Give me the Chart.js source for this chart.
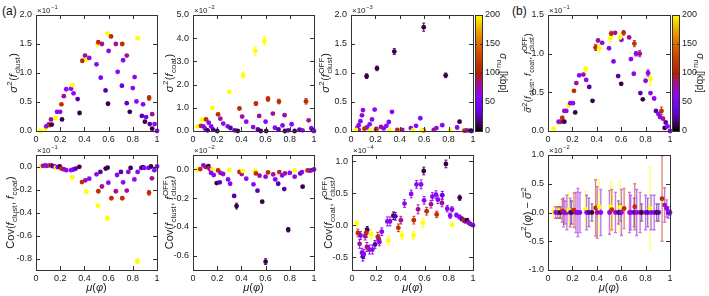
<!DOCTYPE html>
<html>
<head>
<meta charset="utf-8">
<script src="https://cdn.jsdelivr.net/npm/chart.js@4.4.1/dist/chart.umd.min.js"></script>
<style>
  body { margin: 0; background: #fff; }
  #fig { position: relative; width: 709px; height: 296px; font-family: "Liberation Sans", Arial, sans-serif; }
  #fig canvas { position: absolute; left: 0; top: 0; }
  .tag { position: absolute; font-size: 12px; color: #111; }
</style>
</head>
<body>
<div id="fig">
  <div class="tag" style="left:2px;top:4px">(a)</div>
  <div class="tag" style="left:512px;top:4px">(b)</div>
</div>
<script>
// tick values
const xTicks = [0, 0.2, 0.4, 0.6, 0.8, 1];
const yTicks1 = [0, 0.5, 1, 1.5, 2];
const yTicks2 = [0, 1, 2, 3, 4, 5];
const yTicks3 = [0, 0.5, 1, 1.5, 2];
const yTicks4 = [0, 0.5, 1, 1.5];
const yTicks5 = [-0.8, -0.6, -0.4, -0.2, 0];
const yTicks6 = [-0.6, -0.4, -0.2, 0];
const yTicks7 = [-0.5, 0, 0.5, 1];
const yTicks8 = [-1, -0.5, 0, 0.5, 1];
const barTicks = [0, 50, 100, 150, 200];

// (a) sigma^2(f_clust)  x10^-1
const p1mu = [.036,.077,.085,.105,.113,.13,.124,.163,.174,.2, .215,.21,.23,.25,.29,.3,.31,.344,.36,.383, .405,.42,.44,.5,.535,.51,.515,.545,.575,.595, .6,.59,.62,.66,.675,.71,.713,.72,.75,.75, .775,.8,.815,.83,.84,.875,.885,.9,.91,.935, .94,.96,.96,.98,1.0];
const p1v = [0,.04,.08,.115,.1,.11,.2,.225,.33,.33, .2,.46,.6,.72,.73,.79,.65,.55,.31,1.21, 1.3,1.23,1.26,1.15,.92,1.49,1.53,1.5,.7,.47, 1.38,1.68,1.63,1.5,1.02,.78,1.5,1.22,1.3,.48, .33,.74,.93,.51,1.6,.26,.46,.16,.24,.57, .12,.29,.04,.12,0];
const p1s = [200,200,60,60,112,10,80,200,60,60, 10,112,80,60,60,200,60,24,10,112, 80,200,60,60,48,200,112,80,24,10, 60,200,112,80,60,35,112,60,80,30, 10,60,60,60,200,24,60,10,40,112, 24,80,10,60,60];
const p1e = [0,0,0,0,0,0,0,0,0,0, 0,0,0,0,0,0,0,0,0,.03, 0,0,0,0,0,0,0,0,0,0, 0,0,.02,0,0,0,.02,0,0,0, 0,0,0,0,0,0,0,0,0,.04, 0,0,0,0,0];

// sigma^2(f_coat)  x10^-2
const p2mu = [.036,.075,.066,.108,.086,.1,.12,.16,.13,.15, .166,.2,.207,.226,.25,.287,.31,.3,.345,.37, .384,.406,.414,.44,.497,.536,.56,.514,.52,.547, .6,.59,.62,.605,.66,.677,.707,.71,.757,.74, .815,.76,.787,.84,.88,.905,.934,.956,.978,.99, 1.0];
const p2v = [.2,.49,.22,.5,.2,.1,.03,1.0,.36,.2, .06,0,.72,.53,.32,.2,.13,1.69,.03,0, .97,.62,2.4,.4,.17,.07,0,3.45,1.18,.65, .4,3.88,1.38,0,.75,.14,.07,1.27,.68,.24, .29,0,.03,0,.06,.03,1.28,.46,.12,.03, 0];
const p2s = [200,200,112,112,60,60,10,200,60,60, 24,10,112,80,60,60,24,200,24,10, 112,80,200,60,60,24,10,200,112,80, 60,200,112,10,80,60,24,112,80,60, 60,10,24,10,24,60,112,80,60,10, 60];
const p2e = [0,0,0,0,0,0,0,0,0,0, 0,0,0,0,0,0,0,.05,0,0, .04,0,.12,0,0,0,0,.18,.08,0, 0,.2,.1,0,0,0,0,.1,0,0, 0,0,0,0,0,0,.12,0,0,0, 0];

// sigma^2(f_clust^OFF)  x10^-3
const p3mu = [.128,.213,.355,.596,.776,.89,.098,.09,.077,.063, .05,.194,.172,.153,.13,.336,.31,.29,.268,.568, .533,.49,.748,.7,.87,.246,.208,.063,.11,.205, .38,.595,.93,.04,.158,.317,.508,.58,.814,.42, .678,.95,.99,.98];
const p3v = [.945,1.08,1.37,1.79,.96,.16,.36,.27,.17,.1, .05,.37,.2,.115,.06,.33,.155,.09,.045,.22, .09,.05,.1,.05,.06,.07,.035,.02,.04,.02, .02,.01,.005,.02,.01,.01,.01,.01,.01,.02, .02,.01,0,.005];
const p3s = [10,10,10,10,10,10,60,60,60,60, 60,60,60,60,60,60,60,60,60,60, 60,60,60,60,60,80,80,80,112,112, 112,112,112,200,200,200,200,200,200,80, 80,80,60,10];
const p3e = [.04,.04,.05,.07,.04,0,0,0,0,0, 0,0,0,0,0,0,0,0,0,0, 0,0,0,0,0,0,0,0,0,0, 0,0,0,0,0,0,0,0,0,0, 0,0,0,0];

// (b) mean variance  x10^-1
const p4mu = [.046,.09,.087,.106,.117,.134,.134,.15,.169,.183, .204,.213,.223,.232,.256,.29,.308,.313,.338,.365, .39,.42,.41,.444,.5,.537,.512,.518,.55,.575, .6,.602,.59,.62,.665,.68,.703,.708,.722,.752, .757,.777,.8,.82,.84,.84,.87,.885,.905,.918, .93,.943,.956,.965,.98,1.0];
const p4v = [.03,.1,.12,.12,.17,.12,.26,.26,.33,.36, .36,.52,.24,.62,.72,.73,.8,.66,.57,.39, 1.08,1.07,1.17,1.14,1.07,.9,1.2,1.26,1.27,.71, .61,1.18,1.21,1.27,1.21,.93,.74,1.13,1.0,1.0, .49,.41,.65,.75,.67,.49,.42,.26,.22,.18, .26,.16,.04,.11,.06,0];
const p4s = [200,200,60,80,112,10,80,60,200,60, 60,112,10,80,60,80,200,60,24,10, 112,200,80,60,60,48,200,112,80,24, 10,60,200,112,80,60,60,112,60,80, 24,10,60,60,200,60,60,24,60,60, 112,80,10,24,60,60];
const p4e = [0,0,0,0,.02,0,0,0,0,0, 0,0,0,0,0,0,.03,0,0,0, .04,.05,0,0,0,0,.05,.03,0,0, 0,0,.05,.03,0,0,0,.04,.03,.04, 0,0,0,.04,.08,0,0,0,0,0, .05,0,0,0,0,0];

// Cov(f_clust, f_coat)  x10^-1
const p5mu = [.04,.058,.077,.09,.113,.127,.14,.154,.165,.18, .196,.21,.229,.25,.29,.309,.328,.358,.3,.38, .408,.44,.416,.5,.532,.576,.592,.515,.545,.598, .512,.59,.623,.66,.67,.702,.713,.72,.75,.763, .782,.813,.84,.87,.884,.895,.93,.934,.958,.95, .978,1.0,.837];
const p5v = [0,.006,.01,.006,.01,.01,.003,0,-.01,-.006, 0,-.018,-.024,-.032,-.032,-.026,-.018,-.003,-.094,-.135, -.12,-.106,-.218,-.068,-.047,-.018,-.01,-.215,-.174,-.141, -.341,-.45,-.276,-.215,-.074,-.047,-.276,-.138,-.209,-.047, -.012,-.112,-.047,-.012,-.006,-.012,-.012,-.229,-.103,0, -.032,0,-.823];
const p5s = [200,60,80,60,112,80,10,60,200,60, 10,112,80,60,60,60,24,10,200,112, 80,60,200,60,24,10,10,112,80,60, 200,200,112,80,60,24,112,60,80,60, 10,60,60,24,10,60,60,112,80,10, 60,60,200];
const p5e = [0,0,0,0,0,0,0,0,0,0, 0,0,0,0,0,0,0,0,0,0, 0,0,0,0,0,0,0,0,0,0, 0,0,0,0,0,0,0,0,0,0, 0,0,0,0,0,0,0,.02,0,0, 0,0,.02];

// Cov(f_clust, f_clust^OFF)  x10^-2
const p6mu = [.036,.06,.086,.105,.127,.133,.144,.16,.149,.171, .196,.221,.207,.226,.249,.29,.307,.34,.36,.3, .384,.403,.41,.44,.5,.533,.572,.6,.514,.52, .55,.6,.62,.663,.68,.704,.713,.76,.737,.754, .787,.8,.84,.84,.887,.906,.9,.947,.967,.983, 1.0];
const p6v = [0,.002,.028,.016,.023,.007,0,0,-.025,-.039, -.095,-.09,-.007,-.025,-.032,-.07,-.1,-.185,-.255,-.005, -.018,-.032,-.012,-.065,-.104,-.148,-.225,-.642,-.009,-.028, -.044,-.051,-.021,-.035,-.07,-.1,-.019,-.028,-.042,-.137, -.42,-.025,-.051,-.007,-.028,-.12,-.019,-.007,-.009,-.005, 0];
const p6s = [200,112,60,80,10,112,60,200,60,60, 10,24,112,80,60,60,60,24,10,200, 112,80,200,60,60,24,10,10,200,112, 80,60,112,80,60,24,112,80,60,24, 10,60,60,200,24,10,60,112,80,60, 60];
const p6e = [0,0,0,0,0,0,0,0,0,0, 0,0,0,0,0,0,0,0,.02,0, 0,0,0,0,0,0,0,.02,0,0, 0,0,0,0,0,0,0,0,0,0, .015,0,0,0,0,0,0,0,0,0, 0];

// Cov(f_coat, f_clust^OFF)  x10^-4
const p7mu = [.038,.049,.063,.071,.082,.09,.098,.126,.117,.109, .158,.145,.169,.123,.19,.213,.221,.227,.246,.292, .314,.3,.342,.358,.404,.383,.413,.434,.489,.533, .571,.546,.511,.508,.617,.585,.596,.593,.653,.664, .694,.71,.70,.744,.746,.776,.787,.811,.826,.828, .89,.863,.888,.907,.923,.937,.95,.964,.978,1.0];
const p7v = [.03,-.12,-.29,-.16,-.43,-.49,-.45,-.07,-.12,-.17, -.14,-.38,-.38,-.34,-.3,-.18,-.22,-.26,-.1,.06, .06,-.24,.15,.14,.08,-.04,-.16,.34,.49,.64, .64,.25,.08,-.16,.22,.04,.39,.85,.33,.45, .48,.40,.17,.35,.47,.96,.26,.15,.25,.01, .43,.16,.13,.1,.08,.06,.08,.04,.02,0];
const p7s = [200,112,80,60,60,24,60,10,112,80, 200,60,60,80,24,112,80,60,60,60, 60,200,10,24,80,112,200,60,60,60, 60,80,112,200,112,200,60,10,80,60, 60,60,112,80,35,10,60,60,60,200, 10,60,60,24,112,80,10,80,60,60];
const p7e = [.04,.06,.07,.06,.07,.07,.07,.05,.07,.06, .07,.07,.07,.07,.06,.07,.07,.06,.06,.07, .07,.06,.06,.06,.06,.06,.06,.06,.06,.06, .07,.07,.06,.06,.06,.07,.06,.06,.06,.06, .06,.06,.05,.06,.06,.06,.05,.04,.04,.02, .04,.03,.03,.03,.03,.02,.02,.02,.01,0];

// sigma^2(phi) - mean  x10^-2
const p8mu = [.046,.063,.087,.08,.1,.117,.128,.139,.155,.169, .183,.193,.213,.229,.245,.262,.308,.316,.335,.36, .39,.42,.403,.433,.504,.515,.523,.553,.578,.594, .591,.602,.624,.668,.678,.706,.711,.727,.755,.768, .8,.817,.837,.845,.87,.891,.907,.935,.956,.973, .986,1.0];
const p8v = [.01,0,.03,0,0,.03,0,0,0,.04, 0,0,.04,0,0,0,.06,0,0,0, .08,.1,0,0,0,.1,.05,0,0,0, .09,0,.07,0,0,0,.1,0,0,0, 0,0,.07,0,0,0,0,.24,.13,.07, 0,0];
const p8s = [200,60,200,80,10,112,60,80,60,200, 60,10,112,80,60,60,200,60,24,10, 112,200,80,60,60,200,112,80,24,10, 200,60,112,80,60,24,112,60,80,10, 60,24,200,60,60,10,24,112,80,60, 60,60];
const p8e = [.1,.1,.12,.1,.1,.2,.25,.2,.3,.3, .25,.2,.3,.35,.42,.35,.3,.3,.25,.15, .49,.46,.45,.4,.38,.43,.35,.35,.2,.15, .45,.4,.35,.35,.3,.25,.4,.4,.35,.15, .3,.25,.72,.3,.3,.15,.15,.74,.3,.15, .1,.05];

const W = 709, H = 296, YW = 30, XH = 18, BW = 26;
const FONT = "'Liberation Sans', Arial, sans-serif";
const INK = "#222";
const fig = document.getElementById("fig");
Chart.defaults.font.family = FONT;

// gnuplot style palette (sqrt, cube, sin)
function palette(s, a) {
  const x = Math.min(Math.max(s / 200, 0), 1);
  const r = Math.sqrt(x), g = x * x * x, b = Math.max(Math.sin(2 * Math.PI * x), 0);
  return `rgba(${Math.round(r * 255)},${Math.round(g * 255)},${Math.round(b * 255)},${a == null ? 1 : a})`;
}

function setFont(ctx, size, it) {
  ctx.font = (it ? "italic " : "") + size + "px " + FONT;
}

function segWidth(ctx, s, size) {
  let w = 0, sw = 0;
  if (s.t) { setFont(ctx, size, s.it); w = ctx.measureText(s.t).width; }
  setFont(ctx, size * 0.72, false);
  if (s.sup) sw = Math.max(sw, ctx.measureText(s.sup).width);
  if (s.sub) sw = Math.max(sw, ctx.measureText(s.sub).width);
  return w + (sw ? sw + 1 : 0);
}

// text with sub/superscripts, centred on (cx, cy) unless left is set
function drawRich(ctx, segs, cx, cy, size, rot, left) {
  ctx.save();
  ctx.translate(cx, cy);
  ctx.rotate(rot);
  ctx.fillStyle = INK;
  ctx.strokeStyle = INK;
  ctx.textAlign = "left";
  ctx.textBaseline = "alphabetic";
  let total = 0;
  segs.forEach(s => (total += segWidth(ctx, s, size)));
  let x = left ? 0 : -total / 2;
  const y = size * 0.35;
  segs.forEach(s => {
    if (s.t) {
      setFont(ctx, size, s.it);
      const w = ctx.measureText(s.t).width;
      ctx.fillText(s.t, x, y);
      if (s.bar) {
        ctx.lineWidth = 0.8;
        ctx.beginPath();
        ctx.moveTo(x + 1.5, y - size * 0.7);
        ctx.lineTo(x + w + 0.5, y - size * 0.7);
        ctx.stroke();
      }
      x += w;
    }
    setFont(ctx, size * 0.72, false);
    let sw = 0;
    if (s.sup) { ctx.fillText(s.sup, x + 0.5, y - size * 0.42); sw = ctx.measureText(s.sup).width; }
    if (s.sub) { ctx.fillText(s.sub, x + 0.5, y + size * 0.25); sw = Math.max(sw, ctx.measureText(s.sub).width); }
    if (sw) x += sw + 1;
  });
  ctx.restore();
}

function addCanvas() {
  const cv = document.createElement("canvas");
  cv.width = W;
  cv.height = H;
  fig.appendChild(cv);
  return cv;
}

function decor(p) {
  return {
    id: "decor",
    beforeDatasetsDraw(chart) {
      const ctx = chart.ctx, xs = chart.scales.x, ys = chart.scales.y;
      ctx.save();
      ctx.lineWidth = p.errW || 1;
      p.mu.forEach((m, i) => {
        const e = p.e[i];
        if (!e) return;
        const px = xs.getPixelForValue(m);
        const y1 = ys.getPixelForValue(p.v[i] + e), y2 = ys.getPixelForValue(p.v[i] - e);
        ctx.strokeStyle = palette(p.s[i], p.errA || 0.9);
        ctx.beginPath();
        ctx.moveTo(px, y1); ctx.lineTo(px, y2);
        ctx.moveTo(px - 1.5, y1); ctx.lineTo(px + 1.5, y1);
        ctx.moveTo(px - 1.5, y2); ctx.lineTo(px + 1.5, y2);
        ctx.stroke();
      });
      ctx.restore();
    },
    afterDraw(chart) {
      const ctx = chart.ctx, a = chart.chartArea, xs = chart.scales.x, ys = chart.scales.y;
      ctx.save();
      ctx.strokeStyle = "#333";
      ctx.lineWidth = 1;
      ctx.beginPath();
      xTicks.forEach(v => {
        const px = Math.round(xs.getPixelForValue(v)) + 0.5;
        ctx.moveTo(px, a.bottom); ctx.lineTo(px, a.bottom - 4);
        ctx.moveTo(px, a.top); ctx.lineTo(px, a.top + 4);
      });
      p.yt.forEach(v => {
        const py = Math.round(ys.getPixelForValue(v)) + 0.5;
        ctx.moveTo(a.left, py); ctx.lineTo(a.left + 4, py);
        ctx.moveTo(a.right, py); ctx.lineTo(a.right - 4, py);
      });
      ctx.stroke();
      ctx.strokeRect(Math.round(a.left) + 0.5, Math.round(a.top) + 0.5, Math.round(a.width), Math.round(a.height));
      ctx.restore();
      drawRich(ctx, p.ylab, p.labX, (a.top + a.bottom) / 2, p.labSize || 11, -Math.PI / 2);
      drawRich(ctx, [{ t: "×10", sup: "−" + p.exp }], a.left + 1, a.top - 5, 8, 0, true);
      if (p.xlab) drawRich(ctx, [{ t: "μ", it: 1 }, { t: "(" }, { t: "φ", it: 1 }, { t: ")" }], (a.left + a.right) / 2, 287, 11, 0);
    }
  };
}

function makePanel(p) {
  const [l, t, r, b] = p.box;
  const pts = p.mu.map((m, i) => ({ x: m, y: p.v[i] }));
  return new Chart(addCanvas(), {
    type: "scatter",
    data: {
      datasets: [{
        data: pts,
        clip: false,
        pointRadius: 2.4,
        pointHoverRadius: 2.4,
        pointBorderWidth: 0,
        pointBackgroundColor: ctx => palette(p.s[ctx.dataIndex])
      }]
    },
    options: {
      responsive: false,
      animation: false,
      events: [],
      layout: { padding: { left: l - YW, top: t, right: W - r, bottom: H - b - XH } },
      plugins: { legend: { display: false }, tooltip: { enabled: false } },
      scales: {
        x: {
          type: "linear", min: 0, max: 1,
          grid: { display: false, drawTicks: false }, border: { display: false },
          afterBuildTicks: s => { s.ticks = xTicks.map(v => ({ value: v })); },
          afterFit: s => { s.height = XH; },
          ticks: {
            padding: 3, color: INK, font: { size: 9 }, maxRotation: 0, autoSkip: false,
            callback: v => (v === 0 || v === 1) ? String(v) : v.toFixed(1)
          }
        },
        y: {
          type: "linear", min: p.ymin, max: p.ymax,
          grid: { display: false, drawTicks: false }, border: { display: false },
          afterBuildTicks: s => { s.ticks = p.yt.map(v => ({ value: v })); },
          afterFit: s => { s.width = YW; },
          ticks: { padding: 4, color: INK, font: { size: 9 }, autoSkip: false, callback: v => v.toFixed(1) }
        }
      }
    },
    plugins: [decor(p)]
  });
}

function makeBar(box, labX) {
  const [l, t, r, b] = box;
  return new Chart(addCanvas(), {
    type: "scatter",
    data: { datasets: [] },
    options: {
      responsive: false,
      animation: false,
      events: [],
      layout: { padding: { left: l, top: t, right: W - r - BW, bottom: H - b } },
      plugins: { legend: { display: false }, tooltip: { enabled: false } },
      scales: {
        x: { display: false, min: 0, max: 1 },
        y: {
          position: "right", min: 0, max: 200,
          grid: { display: false, drawTicks: false }, border: { display: false },
          afterBuildTicks: s => { s.ticks = barTicks.map(v => ({ value: v })); },
          afterFit: s => { s.width = BW; },
          ticks: { padding: 3, color: INK, font: { size: 9 }, autoSkip: false }
        }
      }
    },
    plugins: [{
      id: "bar",
      beforeDatasetsDraw(chart) {
        const ctx = chart.ctx, a = chart.chartArea;
        const grad = ctx.createLinearGradient(0, a.bottom, 0, a.top);
        for (let i = 0; i <= 20; i++) grad.addColorStop(i / 20, palette(i * 10));
        ctx.fillStyle = grad;
        ctx.fillRect(a.left, a.top, a.width, a.height);
      },
      afterDraw(chart) {
        const ctx = chart.ctx, a = chart.chartArea, ys = chart.scales.y;
        ctx.save();
        ctx.strokeStyle = "#333";
        ctx.lineWidth = 1;
        ctx.beginPath();
        barTicks.forEach(v => {
          const py = Math.round(ys.getPixelForValue(v)) + 0.5;
          ctx.moveTo(a.right, py); ctx.lineTo(a.right - 2, py);
          ctx.moveTo(a.left, py); ctx.lineTo(a.left + 2, py);
        });
        ctx.stroke();
        ctx.strokeRect(Math.round(a.left) + 0.5, Math.round(a.top) + 0.5, Math.round(a.width), Math.round(a.height));
        ctx.restore();
        drawRich(ctx, [{ t: "σ", it: 1, sub: "nu" }, { t: " [kbp]" }], labX, (a.top + a.bottom) / 2, 10, Math.PI / 2);
      }
    }]
  });
}

const fClust = [{ t: "f", it: 1, sub: "clust" }];
const fCoat = [{ t: "f", it: 1, sub: "coat" }];
const fOff = [{ t: "f", it: 1, sup: "OFF", sub: "clust" }];
const comma = [{ t: ", " }];

const panels = [
  { box: [36, 15, 157, 131], mu: p1mu, v: p1v, s: p1s, e: p1e, ymin: 0, ymax: 2, yt: yTicks1, exp: "1", labX: 13,
    ylab: [{ t: "σ", it: 1, sup: "2" }, { t: "(" }, ...fClust, { t: ")" }] },
  { box: [193, 15, 314, 131], mu: p2mu, v: p2v, s: p2s, e: p2e, ymin: 0, ymax: 5, yt: yTicks2, exp: "2", labX: 169,
    ylab: [{ t: "σ", it: 1, sup: "2" }, { t: "(" }, ...fCoat, { t: ")" }] },
  { box: [351, 15, 473, 131], mu: p3mu, v: p3v, s: p3s, e: p3e, ymin: 0, ymax: 2, yt: yTicks3, exp: "3", labX: 325,
    ylab: [{ t: "σ", it: 1, sup: "2" }, { t: "(" }, ...fOff, { t: ")" }] },
  { box: [548, 15, 670, 131], mu: p4mu, v: p4v, s: p4s, e: p4e, ymin: 0, ymax: 1.5, yt: yTicks4, exp: "1", labX: 528, labSize: 9.5,
    ylab: [{ t: "σ", it: 1, bar: 1, sup: "2" }, { t: "(" }, ...fClust, ...comma, ...fCoat, ...comma, ...fOff, { t: ")" }] },
  { box: [36, 155, 157, 270], mu: p5mu, v: p5v, s: p5s, e: p5e, ymin: -0.9, ymax: 0.1, yt: yTicks5, exp: "1", labX: 10, xlab: true,
    ylab: [{ t: "Cov(" }, ...fClust, ...comma, ...fCoat, { t: ")" }] },
  { box: [193, 155, 314, 270], mu: p6mu, v: p6v, s: p6s, e: p6e, ymin: -0.7, ymax: 0.1, yt: yTicks6, exp: "2", labX: 169, xlab: true,
    ylab: [{ t: "Cov(" }, ...fClust, ...comma, ...fOff, { t: ")" }] },
  { box: [352, 155, 473, 270], mu: p7mu, v: p7v, s: p7s, e: p7e, ymin: -0.7, ymax: 1.1, yt: yTicks7, exp: "4", labX: 328, xlab: true,
    ylab: [{ t: "Cov(" }, ...fCoat, ...comma, ...fOff, { t: ")" }] },
  { box: [548, 155, 670, 270], mu: p8mu, v: p8v, s: p8s, e: p8e, ymin: -1, ymax: 1, yt: yTicks8, exp: "2", labX: 527, xlab: true,
    errW: 1.4, errA: 0.55,
    ylab: [{ t: "σ", it: 1, sup: "2" }, { t: "(" }, { t: "φ", it: 1 }, { t: ") − " }, { t: "σ", it: 1, bar: 1, sup: "2" }] }
];

panels.forEach(makePanel);
makeBar([475, 15, 482, 131], 503);
makeBar([672, 15, 679, 131], 700);
</script>
</body>
</html>
